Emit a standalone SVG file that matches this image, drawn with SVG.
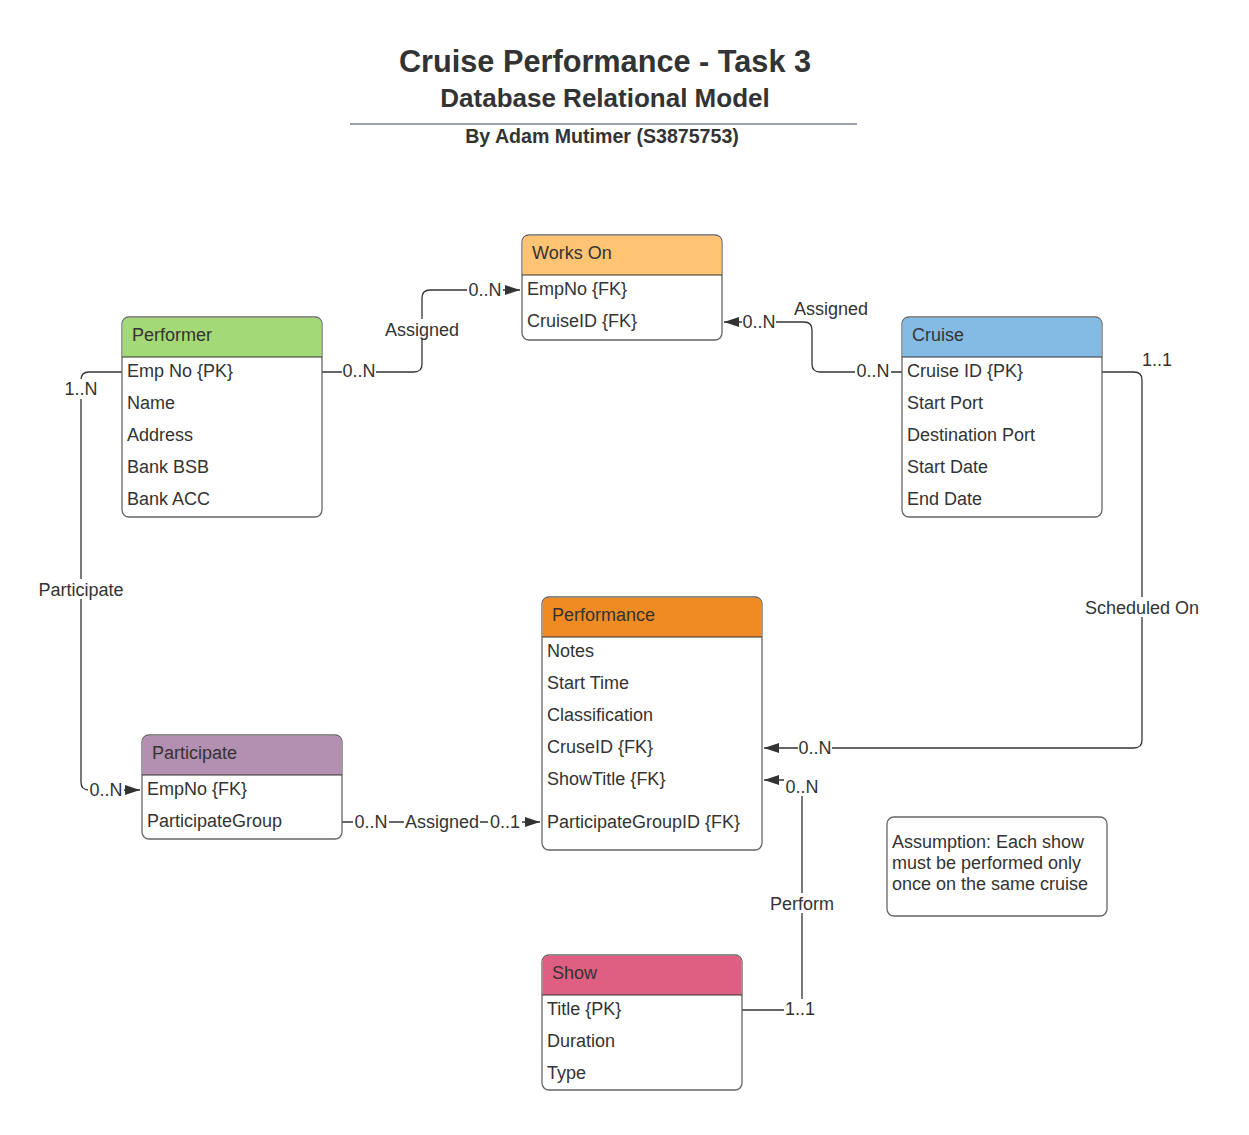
<svg xmlns="http://www.w3.org/2000/svg" width="1249" height="1135" viewBox="0 0 1249 1135">
<defs>
<marker id="arr" markerWidth="16" markerHeight="12" refX="15" refY="6" orient="auto" markerUnits="userSpaceOnUse">
<path d="M0,1 L15,6 L0,11 Z" fill="#333"/>
</marker>
<style>
.t{font-family:"Liberation Sans",Arial,sans-serif;fill:#333}
.title{font-weight:bold;text-anchor:middle}
.box{fill:#fff;stroke:#666;stroke-width:1.3}
.sep{stroke:#333;stroke-width:1.2}
.attr{font-size:18px}
.lbl{font-size:18px;text-anchor:middle}
.con{fill:none;stroke:#333;stroke-width:1.3}
.bg{fill:#fff}
</style>
</defs>
<rect width="1249" height="1135" fill="#fff"/>
<g id="title">
<text class="t title" x="605" y="72" font-size="30.7">Cruise Performance - Task 3</text>
<text class="t title" x="605" y="107" font-size="26">Database Relational Model</text>
<line x1="350" y1="124" x2="857" y2="124" stroke="#9aa0ab" stroke-width="2"/>
<text class="t title" x="602" y="143" font-size="19.6">By Adam Mutimer (S3875753)</text>
</g>
<g id="connectors">
<path class="con" d="M322,372 H414 Q422,372 422,364 V298 Q422,290 430,290 H520" marker-end="url(#arr)"/>
<path class="con" d="M902,372 H820 Q812,372 812,364 V330 Q812,322 804,322 H724" marker-end="url(#arr)"/>
<path class="con" d="M122,372 H89 Q81,372 81,380 V782 Q81,790 89,790 H140" marker-end="url(#arr)"/>
<path class="con" d="M1102,372 H1134 Q1142,372 1142,380 V740 Q1142,748 1134,748 H764" marker-end="url(#arr)"/>
<path class="con" d="M342,822 H540" marker-end="url(#arr)"/>
<path class="con" d="M742,1010 H802 V780 H764" marker-end="url(#arr)"/>
<g class="t lbl">
<rect class="bg" x="342" y="361" width="34" height="20"/><text x="359" y="377">0..N</text>
<rect class="bg" x="382" y="319" width="80" height="20"/><text x="422" y="336">Assigned</text>
<rect class="bg" x="467" y="280" width="36" height="20"/><text x="485" y="296">0..N</text>
<rect class="bg" x="855" y="361" width="36" height="20"/><text x="873" y="377">0..N</text>
<rect class="bg" x="742" y="312" width="34" height="20"/><text x="759" y="328">0..N</text>
<text x="831" y="315">Assigned</text>
<rect class="bg" x="63" y="379" width="36" height="20"/><text x="81" y="395">1..N</text>
<rect class="bg" x="36" y="579" width="90" height="20"/><text x="81" y="596">Participate</text>
<rect class="bg" x="88" y="780" width="36" height="20"/><text x="106" y="796">0..N</text>
<text x="1157" y="366">1..1</text>
<rect class="bg" x="1082" y="597" width="120" height="20"/><text x="1142" y="614">Scheduled On</text>
<rect class="bg" x="798" y="738" width="34" height="20"/><text x="815" y="754">0..N</text>
<rect class="bg" x="353" y="812" width="36" height="20"/><text x="371" y="828">0..N</text>
<rect class="bg" x="404" y="812" width="76" height="20"/><text x="442" y="828">Assigned</text>
<rect class="bg" x="488" y="812" width="34" height="20"/><text x="505" y="828">0..1</text>
<rect class="bg" x="767" y="893" width="70" height="20"/><text x="802" y="910">Perform</text>
<rect class="bg" x="784" y="999" width="34" height="20"/><text x="800" y="1015">1..1</text>
<rect class="bg" x="784" y="776" width="36" height="20"/><text x="802" y="793">0..N</text>
</g>
</g>
<g id="works-on">
<rect class="box" x="522" y="235" width="200" height="105" rx="7"/>
<path d="M522.7,275 V242 Q522.7,235.7 529,235.7 H715 Q721.3,235.7 721.3,242 V275 Z" fill="#ffc374"/>
<line class="sep" x1="522" y1="275" x2="722" y2="275"/>
<text class="t attr" x="532" y="259">Works On</text>
<text class="t attr" x="527" y="295">EmpNo {FK}</text>
<text class="t attr" x="527" y="327">CruiseID {FK}</text>
</g>
<g id="performer">
<rect class="box" x="122" y="317" width="200" height="200" rx="7"/>
<path d="M122.7,357 V324 Q122.7,317.7 129,317.7 H315 Q321.3,317.7 321.3,324 V357 Z" fill="#a3d977"/>
<line class="sep" x1="122" y1="357" x2="322" y2="357"/>
<text class="t attr" x="132" y="341">Performer</text>
<text class="t attr" x="127" y="377">Emp No {PK}</text>
<text class="t attr" x="127" y="409">Name</text>
<text class="t attr" x="127" y="441">Address</text>
<text class="t attr" x="127" y="473">Bank BSB</text>
<text class="t attr" x="127" y="505">Bank ACC</text>
</g>
<g id="cruise">
<rect class="box" x="902" y="317" width="200" height="200" rx="7"/>
<path d="M902.7,357 V324 Q902.7,317.7 909,317.7 H1095 Q1101.3,317.7 1101.3,324 V357 Z" fill="#83bbe5"/>
<line class="sep" x1="902" y1="357" x2="1102" y2="357"/>
<text class="t attr" x="912" y="341">Cruise</text>
<text class="t attr" x="907" y="377">Cruise ID {PK}</text>
<text class="t attr" x="907" y="409">Start Port</text>
<text class="t attr" x="907" y="441">Destination Port</text>
<text class="t attr" x="907" y="473">Start Date</text>
<text class="t attr" x="907" y="505">End Date</text>
</g>
<g id="performance">
<rect class="box" x="542" y="597" width="220" height="253" rx="7"/>
<path d="M542.7,637 V604 Q542.7,597.7 549,597.7 H755 Q761.3,597.7 761.3,604 V637 Z" fill="#f08b24"/>
<line class="sep" x1="542" y1="637" x2="762" y2="637"/>
<text class="t attr" x="552" y="621">Performance</text>
<text class="t attr" x="547" y="657">Notes</text>
<text class="t attr" x="547" y="689">Start Time</text>
<text class="t attr" x="547" y="721">Classification</text>
<text class="t attr" x="547" y="753">CruseID {FK}</text>
<text class="t attr" x="547" y="785">ShowTitle {FK}</text>
<text class="t attr" x="547" y="828">ParticipateGroupID {FK}</text>
</g>
<g id="participate">
<rect class="box" x="142" y="735" width="200" height="104" rx="7"/>
<path d="M142.7,775 V742 Q142.7,735.7 149,735.7 H335 Q341.3,735.7 341.3,742 V775 Z" fill="#b38fb2"/>
<line class="sep" x1="142" y1="775" x2="342" y2="775"/>
<text class="t attr" x="152" y="759">Participate</text>
<text class="t attr" x="147" y="795">EmpNo {FK}</text>
<text class="t attr" x="147" y="827">ParticipateGroup</text>
</g>
<g id="show">
<rect class="box" x="542" y="955" width="200" height="135" rx="7"/>
<path d="M542.7,995 V962 Q542.7,955.7 549,955.7 H735 Q741.3,955.7 741.3,962 V995 Z" fill="#de5f82"/>
<line class="sep" x1="542" y1="995" x2="742" y2="995"/>
<text class="t attr" x="552" y="979">Show</text>
<text class="t attr" x="547" y="1015">Title {PK}</text>
<text class="t attr" x="547" y="1047">Duration</text>
<text class="t attr" x="547" y="1079">Type</text>
</g>
<g id="assumption">
<rect class="box" x="887" y="817" width="220" height="99" rx="7"/>
<text class="t attr" x="892" y="848">Assumption: Each show</text>
<text class="t attr" x="892" y="869">must be performed only</text>
<text class="t attr" x="892" y="890">once on the same cruise</text>
</g>
</svg>
